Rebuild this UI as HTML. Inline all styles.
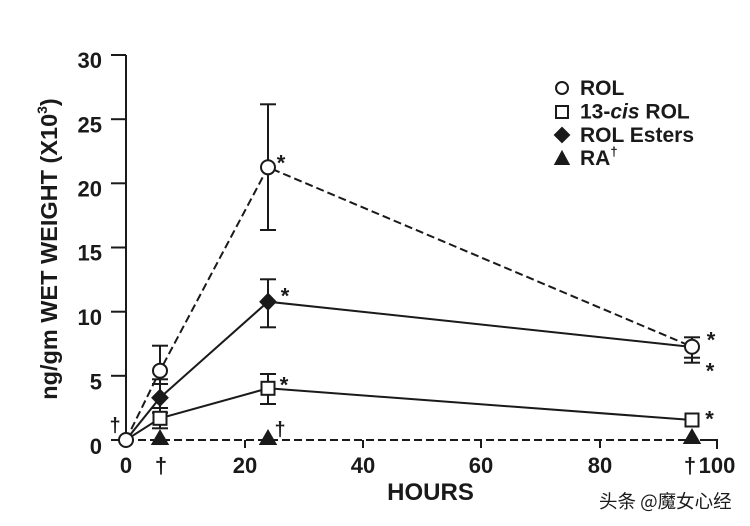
<!DOCTYPE html>
<html>
<head>
<meta charset="utf-8">
<style>
  html,body{margin:0;padding:0;background:#ffffff;}
  svg{display:block;}
  text{font-family:"Liberation Sans","Noto Sans CJK SC",sans-serif;fill:#1a1a1a;}
  .b{font-weight:bold;}
</style>
</head>
<body>
<svg width="750" height="526" viewBox="0 0 750 526" xmlns="http://www.w3.org/2000/svg">
  <rect width="750" height="526" fill="#ffffff"/>

  <!-- Y axis -->
  <g stroke="#1a1a1a" stroke-width="2" fill="none">
    <line x1="126" y1="55" x2="126" y2="440"/>
    <line x1="111" y1="55" x2="126" y2="55"/>
    <line x1="111" y1="119.2" x2="126" y2="119.2"/>
    <line x1="111" y1="183.3" x2="126" y2="183.3"/>
    <line x1="111" y1="247.5" x2="126" y2="247.5"/>
    <line x1="111" y1="311.7" x2="126" y2="311.7"/>
    <line x1="111" y1="375.8" x2="126" y2="375.8"/>
    <line x1="111" y1="440" x2="126" y2="440"/>
  </g>

  <!-- Y tick labels -->
  <g class="b" font-size="22" text-anchor="end">
    <text x="102" y="68">30</text>
    <text x="102" y="132.5">25</text>
    <text x="102" y="196.5">20</text>
    <text x="102" y="260.5">15</text>
    <text x="102" y="325">10</text>
    <text x="102" y="389.5">5</text>
    <text x="102" y="454">0</text>
  </g>

  <!-- Y axis title -->
  <text class="b" font-size="23.5" text-anchor="middle" transform="translate(57,249) rotate(-90)">ng/gm WET WEIGHT (X10<tspan font-size="14" dy="-10">3</tspan><tspan dy="10">)</tspan></text>

  <!-- X axis (dashed RA line) and ticks -->
  <g stroke="#1a1a1a" stroke-width="2" fill="none">
    <line x1="126" y1="440" x2="717" y2="440" stroke-dasharray="8,4"/>
    <line x1="245" y1="440" x2="245" y2="448"/>
    <line x1="363" y1="440" x2="363" y2="448"/>
    <line x1="481" y1="440" x2="481" y2="448"/>
    <line x1="600" y1="440" x2="600" y2="448"/>
    <polyline points="700,440 717,440 717,449"/>
  </g>

  <!-- X tick labels -->
  <g class="b" font-size="22" text-anchor="middle">
    <text x="126" y="473">0</text>
    <text x="161" y="473">†</text>
    <text x="245" y="473">20</text>
    <text x="363" y="473">40</text>
    <text x="481" y="473">60</text>
    <text x="600" y="473">80</text>
    <text x="690" y="473">†</text>
    <text x="717" y="473">100</text>
  </g>
  <text class="b" font-size="24" x="430.5" y="500" text-anchor="middle">HOURS</text>

  <!-- Series lines -->
  <g stroke="#1a1a1a" stroke-width="2" fill="none">
    <polyline points="126,440 160,370.7 268,167.3 692,346.7" stroke-dasharray="8,4"/>
    <polyline points="126,440 160,397.7 268,301.7 692,347"/>
    <polyline points="126,440 160,418.3 268,388.3 692,420"/>
  </g>

  <!-- Error bars -->
  <g stroke="#1a1a1a" stroke-width="2" fill="none">
    <line x1="160" y1="345.7" x2="160" y2="428.3"/>
    <line x1="152" y1="345.7" x2="168" y2="345.7"/>
    <line x1="152" y1="379.3" x2="168" y2="379.3"/>
    <line x1="152" y1="384" x2="168" y2="384"/>
    <line x1="152" y1="408" x2="168" y2="408"/>
    <line x1="152" y1="412.7" x2="168" y2="412.7"/>
    <line x1="152" y1="428.3" x2="168" y2="428.3"/>
    <line x1="268" y1="104.3" x2="268" y2="230"/>
    <line x1="260" y1="104.3" x2="276" y2="104.3"/>
    <line x1="260" y1="230" x2="276" y2="230"/>
    <line x1="268" y1="279.3" x2="268" y2="327.3"/>
    <line x1="260" y1="279.3" x2="276" y2="279.3"/>
    <line x1="260" y1="327.3" x2="276" y2="327.3"/>
    <line x1="268" y1="374" x2="268" y2="404"/>
    <line x1="260" y1="374" x2="276" y2="374"/>
    <line x1="260" y1="404" x2="276" y2="404"/>
    <line x1="692" y1="337.3" x2="692" y2="362.7"/>
    <line x1="684" y1="337.3" x2="700" y2="337.3"/>
    <line x1="684" y1="357.7" x2="700" y2="357.7"/>
    <line x1="684" y1="362.7" x2="700" y2="362.7"/>
  </g>

  <!-- Markers -->
  <g stroke="#1a1a1a" stroke-width="2">
    <polygon points="160,431 152.5,444 167.5,444" fill="#1a1a1a"/>
    <polygon points="268,431 260.5,444 275.5,444" fill="#1a1a1a"/>
    <polygon points="692,430 684.5,443 699.5,443" fill="#1a1a1a"/>
    <polygon points="160,390 167.5,397.7 160,405.4 152.5,397.7" fill="#1a1a1a"/>
    <polygon points="268,294 275.5,301.7 268,309.4 260.5,301.7" fill="#1a1a1a"/>
    <rect x="153.5" y="411.8" width="13" height="13" fill="#ffffff"/>
    <rect x="261.5" y="381.8" width="13" height="13" fill="#ffffff"/>
    <rect x="685.5" y="413.5" width="13" height="13" fill="#ffffff"/>
    <circle cx="126" cy="440" r="7" fill="#ffffff"/>
    <circle cx="160" cy="370.7" r="7" fill="#ffffff"/>
    <circle cx="268" cy="167.3" r="7" fill="#ffffff"/>
    <circle cx="692" cy="346.7" r="7" fill="#ffffff"/>
  </g>

  <!-- Asterisks and daggers -->
  <g class="b" font-size="22" text-anchor="middle">
    <text x="281" y="170.5">*</text>
    <text x="285" y="303.5">*</text>
    <text x="284" y="392.5">*</text>
    <text x="711" y="347.5">*</text>
    <text x="710" y="378.5">*</text>
    <text x="709.5" y="426.5">*</text>
  </g>
  <g class="b" font-size="20" text-anchor="middle">
    <text x="280" y="436">†</text>
    <text x="115" y="432">†</text>
  </g>

  <!-- Legend -->
  <g stroke="#1a1a1a" stroke-width="2">
    <circle cx="562" cy="88" r="6" fill="#ffffff"/>
    <rect x="556" y="106" width="12" height="12" fill="#ffffff"/>
    <polygon points="562,128 569,135 562,142 555,135" fill="#1a1a1a"/>
    <polygon points="562,152 555.5,164 568.5,164" fill="#1a1a1a"/>
  </g>
  <g class="b" font-size="21">
    <text x="580" y="95">ROL</text>
    <text x="580" y="118.5">13-<tspan font-style="italic">cis</tspan> ROL</text>
    <text x="580" y="142">ROL Esters</text>
    <text x="580" y="165">RA<tspan font-size="13" dy="-9">†</tspan></text>
  </g>

  <!-- Watermark -->
  <text x="599" y="508" font-size="18.5" style="font-family:'Noto Sans CJK SC',sans-serif;" fill="#2a2a2a">头条 @魔女心经</text>
</svg>
</body>
</html>
